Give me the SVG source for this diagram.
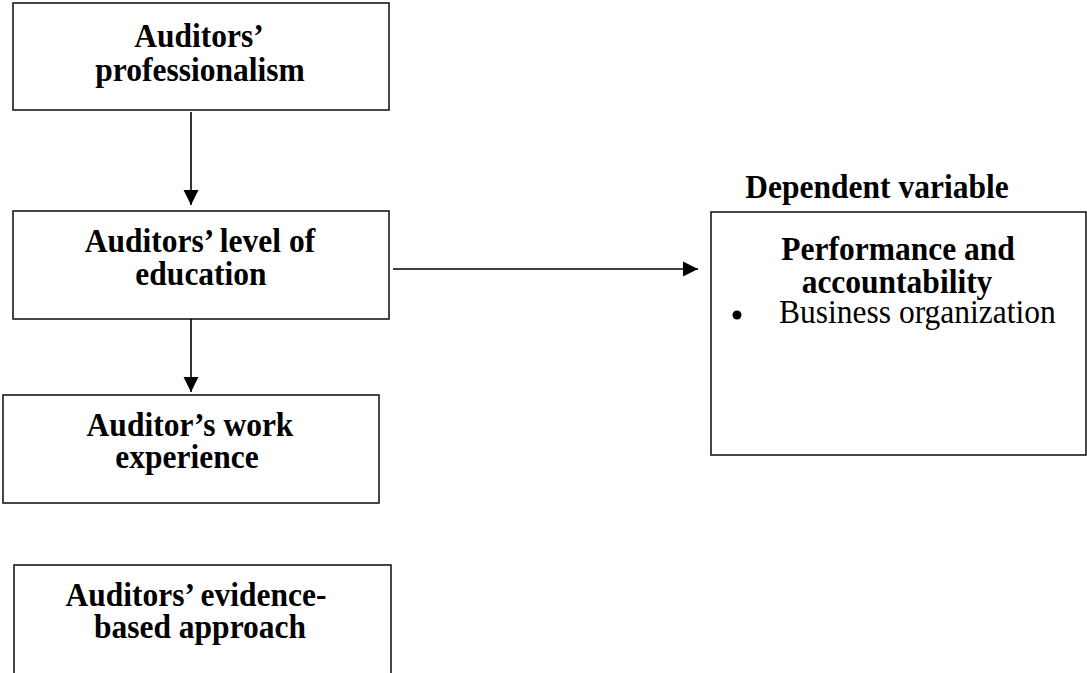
<svg xmlns="http://www.w3.org/2000/svg" width="1087" height="673" viewBox="0 0 1087 673">
<style>
.box{fill:#fff;stroke:#1a1a1a;stroke-width:1.6}
.t{font-family:"Liberation Serif","Times New Roman",serif;font-size:31.5px;fill:#000;text-anchor:middle}
.b{font-weight:bold}
.conn{stroke:#000;stroke-width:1.6;fill:none}
</style>
<defs>
<marker id="ah" markerUnits="userSpaceOnUse" markerWidth="16" markerHeight="16" viewBox="0 0 16 16" refX="15" refY="8" orient="auto">
<path d="M0,0.5 L15,8 L0,15.5 Z" fill="#000"/>
</marker>
</defs>
<rect width="1087" height="673" fill="#fff"/>
<g id="n1">
<rect class="box" x="13" y="3" width="376" height="107"/>
<text class="t b" transform="translate(199,47) scale(1,1.1)">Auditors’</text>
<text class="t b" transform="translate(200,81) scale(1,1.1)">professionalism</text>
</g>
<g id="n2">
<rect class="box" x="13" y="211" width="376" height="108"/>
<text class="t b" transform="translate(200,252) scale(1,1.1)">Auditors’ level of</text>
<text class="t b" transform="translate(201,285) scale(1,1.1)">education</text>
</g>
<g id="n3">
<rect class="box" x="3" y="395" width="376" height="108"/>
<text class="t b" transform="translate(190,436) scale(1,1.1)">Auditor’s work</text>
<text class="t b" transform="translate(187,468) scale(1,1.1)">experience</text>
</g>
<g id="n4">
<rect class="box" x="14" y="565" width="377" height="120"/>
<text class="t b" transform="translate(196,606) scale(1,1.1)">Auditors’ evidence-</text>
<text class="t b" transform="translate(200,638) scale(1,1.1)">based approach</text>
</g>
<g id="n5">
<text class="t b" transform="translate(877,198) scale(1,1.1)">Dependent variable</text>
<rect class="box" x="711" y="212" width="375" height="243"/>
<text class="t b" transform="translate(898,260) scale(1,1.1)">Performance and</text>
<text class="t b" transform="translate(897,293) scale(1,1.1)">accountability</text>
<circle cx="737" cy="315" r="4.5" fill="#000"/>
<text class="t" transform="translate(779,323) scale(1,1.1)" style="text-anchor:start">Business organization</text>
</g>
<g id="connectors">
<line class="conn" x1="191" y1="112" x2="191" y2="205" marker-end="url(#ah)"/>
<line class="conn" x1="191" y1="319" x2="191" y2="392" marker-end="url(#ah)"/>
<line class="conn" x1="393" y1="269" x2="698" y2="269" marker-end="url(#ah)"/>
</g>
</svg>
